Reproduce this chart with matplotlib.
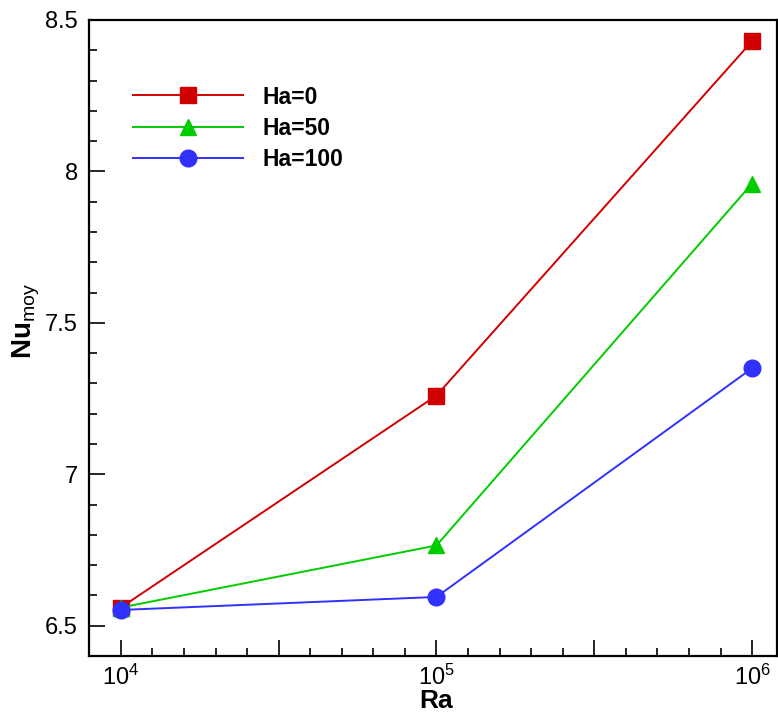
import numpy as np
import matplotlib
matplotlib.use('Agg')
import matplotlib.pyplot as plt
from matplotlib.ticker import FixedLocator, FixedFormatter

plt.rcParams['font.family'] = ['Liberation Sans', 'DejaVu Sans']
plt.rcParams['mathtext.fontset'] = 'custom'
plt.rcParams['mathtext.rm'] = 'Liberation Sans'
plt.rcParams['mathtext.it'] = 'Liberation Sans:italic'
plt.rcParams['mathtext.bf'] = 'Liberation Sans:bold'

# data
ra = [1e4, 1e5, 1e6]
nu_ha0 = [6.56, 7.26, 8.43]
nu_ha50 = [6.56, 6.765, 7.96]
nu_ha100 = [6.552, 6.595, 7.35]

fig = plt.figure(figsize=(7.78, 7.13), dpi=100)
# axes box: left spine x=89, right x=777, top y=20, bottom y=656 (pixels)
ax = fig.add_axes([89 / 778, 1 - 656 / 713, 688 / 778, 636 / 713])

ax.plot(ra, nu_ha0, color='#d00000', lw=1.4, marker='s', ms=11, label='Ha=0')
ax.plot(ra, nu_ha50, color='#00cc00', lw=1.4, marker='^', ms=12, label='Ha=50')
ax.plot(ra, nu_ha100, color='#3030ff', lw=1.4, marker='o', ms=12, label='Ha=100')

ax.set_xscale('log')
ax.set_xlim(10 ** 3.899, 10 ** 6.079)
ax.set_ylim(6.4, 8.5)

# Tecplot-style ticks: evenly spaced in log10
major_x = 10 ** np.array([4, 4.5, 5, 5.5, 6])
minor_x = 10 ** np.arange(3.9, 6.05, 0.1)
ax.xaxis.set_major_locator(FixedLocator(major_x))
ax.xaxis.set_major_formatter(FixedFormatter([r'$10^{4}$', '', r'$10^{5}$', '', r'$10^{6}$']))
ax.xaxis.set_minor_locator(FixedLocator(minor_x))
ax.xaxis.set_minor_formatter(FixedFormatter([''] * len(minor_x)))

ax.set_yticks([6.5, 7, 7.5, 8, 8.5])
ax.set_yticklabels(['6.5', '7', '7.5', '8', '8.5'])
ax.set_yticks(np.arange(6.4, 8.51, 0.1), minor=True)

ax.tick_params(which='both', direction='in', top=False, right=False, width=1.2)
ax.tick_params(which='major', length=11.5, labelsize=17)
ax.tick_params(which='minor', length=6)
ax.tick_params(axis='x', pad=6)
ax.tick_params(axis='y', pad=8)
for s in ax.spines.values():
    s.set_linewidth(1.6)

ax.set_xlabel('Ra', fontsize=19, fontweight='bold', va='bottom')
ax.xaxis.set_label_coords(0.504, -0.089)
ax.set_ylabel(r'$\mathbf{Nu}_{\mathrm{moy}}$', fontsize=20)
ax.yaxis.set_label_coords(-0.068, 0.527)

leg = ax.legend(loc='upper left', bbox_to_anchor=(0.064, 0.897), frameon=False,
                prop={'size': 16.5, 'weight': 'bold'}, handlelength=4.8,
                handletextpad=0.87, labelspacing=0.35, borderpad=0, borderaxespad=0)

fig.savefig('out.png', dpi=100)
